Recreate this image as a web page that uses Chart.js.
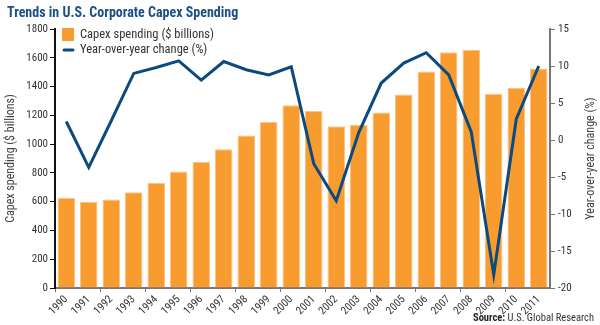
<!DOCTYPE html>
<html>
<head>
<meta charset="utf-8">
<script src="https://cdn.jsdelivr.net/npm/chart.js@4/dist/chart.umd.min.js"></script>
<style>
html,body{margin:0;padding:0;background:#fff;}
#wrap{position:relative;width:600px;height:325px;}
</style>
</head>
<body>
<div id="wrap"><canvas id="c" width="600" height="325"></canvas></div>
<script>
const years = ['1990','1991','1992','1993','1994','1995','1996','1997','1998','1999','2000','2001','2002','2003','2004','2005','2006','2007','2008','2009','2010','2011'];
const capexSpending = [625,600,615,665,730,810,875,965,1060,1155,1270,1230,1125,1135,1220,1345,1505,1638,1655,1350,1390,1525];
const yoyChange = [2.5,-3.7,2.6,9.0,9.8,10.7,8.1,10.6,9.5,8.8,9.9,-3.2,-8.2,1.0,7.7,10.4,11.8,8.8,1.1,-18.2,2.8,10.0];
const leftTicks = [0,200,400,600,800,1000,1200,1400,1600,1800];
const rightTicks = [-20,-15,-10,-5,0,5,10,15];

const FONT = "'Roboto Condensed','DejaVu Sans Condensed',sans-serif";
const ORANGE = '#F89C30';
const BLUE = '#0B4A7F';

const overlay = {
  id: 'overlay',
  afterDraw(chart) {
    const ctx = chart.ctx;
    const ca = chart.chartArea;
    ctx.save();
    // title
    ctx.fillStyle = '#1B4F86';
    ctx.font = "bold 14px " + FONT;
    ctx.textBaseline = 'middle';
    ctx.textAlign = 'left';
    ctx.fillText('Trends in U.S. Corporate Capex Spending', 7, 13);
    // legend
    const ds = chart.data.datasets;
    ctx.fillStyle = ORANGE;
    ctx.fillRect(62, 28, 12, 13);
    ctx.strokeStyle = BLUE;
    ctx.lineWidth = 3;
    ctx.lineCap = 'round';
    ctx.beginPath(); ctx.moveTo(64, 50); ctx.lineTo(73, 50); ctx.stroke();
    ctx.fillStyle = '#333';
    ctx.font = "12.5px " + FONT;
    ctx.fillText(ds[1].label, 80, 35);
    ctx.fillText(ds[0].label, 80, 50);
    // right axis title
    ctx.save();
    ctx.translate(591, (ca.top + ca.bottom) / 2);
    ctx.rotate(-Math.PI / 2);
    ctx.textAlign = 'center';
    ctx.font = "12px " + FONT;
    ctx.fillStyle = '#444';
    ctx.fillText('Year-over-year change (%)', 0, 0);
    ctx.restore();
    // source
    ctx.textBaseline = 'alphabetic';
    ctx.textAlign = 'right';
    ctx.font = "10.5px " + FONT;
    ctx.fillStyle = '#333';
    const t2 = 'U.S. Global Research';
    ctx.fillText(t2, 594, 321);
    const w2 = ctx.measureText(t2).width;
    ctx.font = "bold 10.5px " + FONT;
    ctx.fillStyle = '#222';
    ctx.fillText('Source: ', 594 - w2, 321);
    ctx.restore();
  }
};

new Chart(document.getElementById('c'), {
  data: {
    labels: years,
    datasets: [
      {
        type: 'line',
        label: 'Year-over-year change (%)',
        data: yoyChange,
        yAxisID: 'yR',
        borderColor: BLUE,
        borderWidth: 3,
        pointRadius: 0,
        tension: 0,
        order: 0,
        borderJoinStyle: 'miter'
      },
      {
        type: 'bar',
        label: 'Capex spending ($ billions)',
        data: capexSpending,
        yAxisID: 'yL',
        backgroundColor: ORANGE,
        borderColor: '#FBC487',
        borderWidth: 1,
        categoryPercentage: 1,
        barPercentage: 0.78,
        order: 1
      }
    ]
  },
  options: {
    responsive: false,
    animation: false,
    layout: { padding: { top: 29, left: 0, right: 0, bottom: 0 } },
    plugins: { legend: { display: false }, tooltip: { enabled: false }, title: { display: false } },
    scales: {
      x: {
        offset: true,
        grid: {
          offset: true,
          drawOnChartArea: false,
          drawTicks: true,
          tickLength: 4,
          color: (c) => (c.index % 2 === 0 ? '#777' : 'rgba(0,0,0,0)'),
          lineWidth: 1
        },
        border: { display: true, color: '#777', width: 2 },
        ticks: {
          minRotation: 45, maxRotation: 45, autoSkip: false,
          font: { family: FONT, size: 11 }, color: '#333', padding: 1
        },
        afterFit(s) { s.height = 37; }
      },
      yL: {
        position: 'left',
        min: 0, max: 1800,
        afterBuildTicks(s) { s.ticks = leftTicks.map(v => ({ value: v })); },
        grid: { drawOnChartArea: false, drawTicks: true, tickLength: 5, color: '#111' },
        border: { display: true, color: '#111', width: 2 },
        ticks: { font: { family: FONT, size: 11 }, color: '#333', padding: 2, callback: (v) => String(v) },
        title: { display: true, text: 'Capex spending ($ billions)', font: { family: FONT, size: 12 }, color: '#444', padding: { top: 4, bottom: 0 } },
        afterFit(s) { s.width = 55; }
      },
      yR: {
        position: 'right',
        min: -20, max: 15,
        afterBuildTicks(s) { s.ticks = rightTicks.map(v => ({ value: v })); },
        grid: { drawOnChartArea: false, drawTicks: true, tickLength: 5, color: '#777' },
        border: { display: true, color: '#777', width: 2 },
        ticks: { font: { family: FONT, size: 11 }, color: '#333', padding: 3, callback: (v) => String(v) },
        afterFit(s) { s.width = 50; }
      }
    }
  },
  plugins: [overlay]
});
</script>
</body>
</html>
